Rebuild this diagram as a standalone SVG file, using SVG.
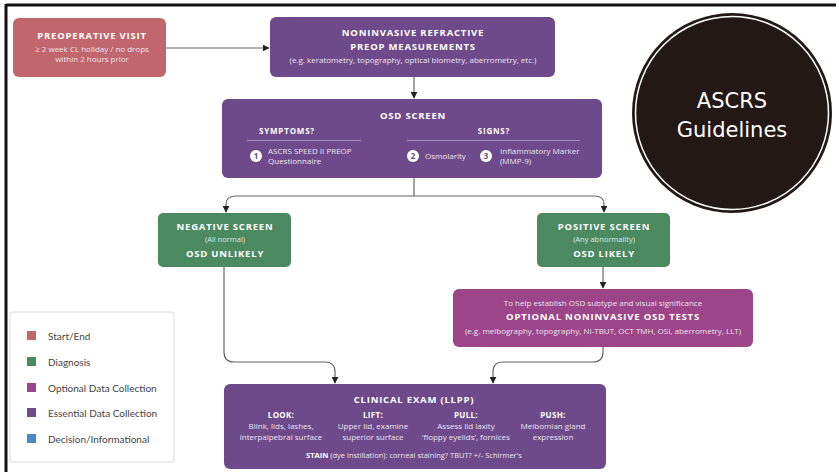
<svg xmlns="http://www.w3.org/2000/svg" width="839" height="472" viewBox="0 0 839 472">
<defs>
<marker id="ah" viewBox="0 0 10 10" refX="9" refY="5" markerWidth="7" markerHeight="7" orient="auto" markerUnits="userSpaceOnUse"><path d="M0,0 L10,5 L0,10 z" fill="#222"/></marker>
<style>
.t{font-family:"Open Sans","Liberation Sans",sans-serif;fill:#fff;text-anchor:middle}
.h{font-weight:bold;font-size:9.5px;letter-spacing:0.8px}
.s{font-size:8px;fill:#ece4f0}
.c{fill:none;stroke:#666;stroke-width:1.2}
.lg{font-family:"Lato","Open Sans","Liberation Sans",sans-serif;font-size:10px;fill:#444}
.num{fill:#fff}
.numt{font-family:"Open Sans","Liberation Sans",sans-serif;font-weight:bold;font-size:8px;fill:#6c4a8c;text-anchor:middle}
</style>
</defs>
<rect width="839" height="472" fill="#fff"/>
<path d="M6,5 H836 M6,4 V472" stroke="#111" stroke-width="3" fill="none"/>

<g id="connectors">
<path class="c" d="M166,48 H269" marker-end="url(#ah)"/>
<path class="c" d="M414,77 V98" marker-end="url(#ah)"/>
<path class="c" d="M414,178 V196 M414,196 H236 Q226,196 226,204 V212" marker-end="url(#ah)"/>
<path class="c" d="M414,196 H594 Q604,196 604,204 V212" marker-end="url(#ah)"/>
<path class="c" d="M603,267 V288" marker-end="url(#ah)"/>
<path class="c" d="M224,267 V352 Q224,362 234,362 H325 Q335,362 335,372 V383" marker-end="url(#ah)"/>
<path class="c" d="M603,347 V352 Q603,362 593,362 H503 Q493,362 493,372 V383" marker-end="url(#ah)"/>
</g>

<g id="preop">
<rect x="13" y="18" width="153" height="59" rx="6" fill="#c1666c"/>
<text class="t h" x="92" y="39">PREOPERATIVE VISIT</text>
<text class="t s" x="92" y="52">≥ 2 week CL holiday / no drops</text>
<text class="t s" x="92" y="62">within 2 hours prior</text>
</g>

<g id="refractive">
<rect x="270" y="17" width="285" height="60" rx="6" fill="#6e4a8b"/>
<text class="t h" x="413" y="36">NONINVASIVE REFRACTIVE</text>
<text class="t h" x="413" y="50">PREOP MEASUREMENTS</text>
<text class="t s" x="413" y="63">(e.g. keratometry, topography, optical biometry, aberrometry, etc.)</text>
</g>

<g id="osd">
<rect x="222" y="99" width="380" height="79" rx="6" fill="#6e4a8b"/>
<text class="t h" x="413" y="119">OSD SCREEN</text>
<text class="t h" x="287" y="134" style="font-size:8px">SYMPTOMS?</text>
<text class="t h" x="494" y="134" style="font-size:8px">SIGNS?</text>
<path d="M247,140.5 H361 M407,140.5 H580" stroke="#a58cba" stroke-width="1"/>
<circle class="num" cx="256" cy="156" r="6"/><text class="numt" x="256" y="159">1</text>
<text class="t s" x="268" y="154" style="text-anchor:start">ASCRS SPEED II PREOP</text>
<text class="t s" x="268" y="164" style="text-anchor:start">Questionnaire</text>
<circle class="num" cx="413" cy="156" r="6"/><text class="numt" x="413" y="159">2</text>
<text class="t s" x="425" y="159" style="text-anchor:start">Osmolarity</text>
<circle class="num" cx="486" cy="156" r="6"/><text class="numt" x="486" y="159">3</text>
<text class="t s" x="500" y="154" style="text-anchor:start">Inflammatory Marker</text>
<text class="t s" x="500" y="164" style="text-anchor:start">(MMP-9)</text>
</g>

<g id="negative">
<rect x="158" y="213" width="133" height="54" rx="5" fill="#4b8a61"/>
<text class="t h" x="225" y="230">NEGATIVE SCREEN</text>
<text class="t s" x="225" y="242" style="fill:#dcebe1;font-size:7.5px">(All normal)</text>
<text class="t h" x="225" y="257">OSD UNLIKELY</text>
</g>

<g id="positive">
<rect x="537" y="213" width="133" height="54" rx="5" fill="#4b8a61"/>
<text class="t h" x="604" y="230">POSITIVE SCREEN</text>
<text class="t s" x="604" y="242" style="fill:#dcebe1;font-size:7.5px">(Any abnormality)</text>
<text class="t h" x="604" y="257">OSD LIKELY</text>
</g>

<g id="optional">
<rect x="453" y="289" width="300" height="58" rx="6" fill="#9c4588"/>
<text class="t s" x="603" y="306">To help establish OSD subtype and visual significance</text>
<text class="t h" x="603" y="320">OPTIONAL NONINVASIVE OSD TESTS</text>
<text class="t s" x="603" y="334">(e.g. meibography, topography, NI-TBUT, OCT TMH, OSI, aberrometry, LLT)</text>
</g>

<g id="clinical">
<rect x="224" y="384" width="382" height="85" rx="6" fill="#6e4a8b"/>
<text class="t h" x="414" y="403">CLINICAL EXAM (LLPP)</text>
<text class="t h" x="281" y="418" style="font-size:8px;letter-spacing:0.3px">LOOK:</text>
<text class="t s" x="281" y="429">Blink, lids, lashes,</text>
<text class="t s" x="281" y="440">interpalpebral surface</text>
<text class="t h" x="373" y="418" style="font-size:8px;letter-spacing:0.3px">LIFT:</text>
<text class="t s" x="373" y="429">Upper lid, examine</text>
<text class="t s" x="373" y="440">superior surface</text>
<text class="t h" x="466" y="418" style="font-size:8px;letter-spacing:0.3px">PULL:</text>
<text class="t s" x="466" y="429">Assess lid laxity</text>
<text class="t s" x="466" y="440">‘floppy eyelids’, fornices</text>
<text class="t h" x="553" y="418" style="font-size:8px;letter-spacing:0.3px">PUSH:</text>
<text class="t s" x="553" y="429">Meibomian gland</text>
<text class="t s" x="553" y="440">expression</text>
<text class="t s" x="414" y="458" style="font-size:7.5px"><tspan font-weight="bold" fill="#fff">STAIN</tspan> (dye instillation): corneal staining? TBUT? +/- Schirmer's</text>
</g>

<g id="legend">
<rect x="10" y="312" width="164" height="150" rx="2" fill="#fff" stroke="#ddd" stroke-width="1"/>
<rect x="27" y="331" width="9" height="9" fill="#c1666c"/>
<text class="lg" x="48" y="340">Start/End</text>
<rect x="27" y="357" width="9" height="9" fill="#4b8a61"/>
<text class="lg" x="48" y="366">Diagnosis</text>
<rect x="27" y="383" width="9" height="9" fill="#9c4588"/>
<text class="lg" x="48" y="392">Optional Data Collection</text>
<rect x="27" y="408" width="9" height="9" fill="#6e4a8b"/>
<text class="lg" x="48" y="417">Essential Data Collection</text>
<rect x="27" y="434" width="9" height="9" fill="#4a86c8"/>
<text class="lg" x="48" y="443">Decision/Informational</text>
</g>

<g id="badge">
<circle cx="732" cy="113" r="100" fill="#231815"/>
<circle cx="732" cy="113" r="96.5" fill="none" stroke="#fff" stroke-width="1.5"/>
<text x="732" y="108" font-family="DejaVu Sans, sans-serif" font-size="21" fill="#fff" text-anchor="middle">ASCRS</text>
<text x="732" y="137" font-family="DejaVu Sans, sans-serif" font-size="21" fill="#fff" text-anchor="middle">Guidelines</text>
</g>
</svg>
